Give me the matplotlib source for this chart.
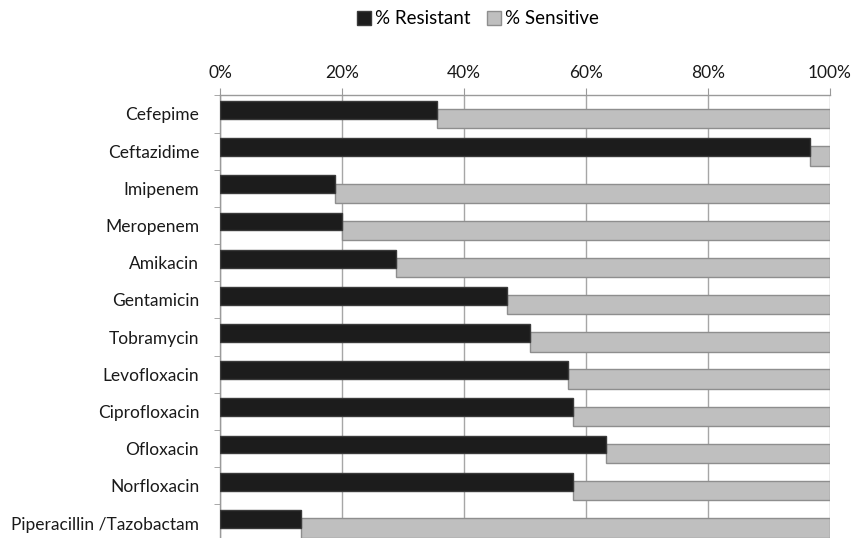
import numpy as np
import matplotlib.pyplot as plt
from matplotlib.patches import Patch

plt.rcParams['font.family'] = ['Lato', 'DejaVu Sans']

antibiotics = ['Cefepime', 'Ceftazidime', 'Imipenem', 'Meropenem', 'Amikacin',
               'Gentamicin', 'Tobramycin', 'Levofloxacin', 'Ciprofloxacin',
               'Ofloxacin', 'Norfloxacin', 'Piperacillin /Tazobactam']
resistant = [35.6, 96.8, 18.8, 20.0, 28.9, 47.0, 50.8, 57.1, 57.9, 63.3, 57.9, 13.3]
sensitive = [100 - r for r in resistant]

x_ticks = [0, 20, 40, 60, 80, 100]

fig = plt.figure(figsize=(8.53, 5.38), dpi=100)
ax = fig.add_axes([220 / 853, -0.0067, 610 / 853, 0.8294])

y = np.arange(len(antibiotics))
ax.barh(y - 0.11, resistant, height=0.48, color='#1c1c1c',
        edgecolor='#3a3a3a', linewidth=1.0, zorder=3, label='% Resistant')
ax.barh(y + 0.13, sensitive, left=resistant, height=0.52, color='#bfbfbf',
        edgecolor='#8e8e8e', linewidth=1.0, zorder=2, label='% Sensitive')

ax.set_xlim(0, 100)
ax.set_ylim(len(antibiotics) - 0.5, -0.5)

ax.xaxis.tick_top()
ax.set_xticks(x_ticks)
ax.set_xticklabels([f'{t}%' for t in x_ticks], fontsize=12.5, color='#1a1a1a')
ax.tick_params(axis='x', length=5, color='#9a9a9a', pad=5)
ax.grid(axis='x', color='#a6a6a6', linewidth=1.0, zorder=0)

ax.set_yticks(y)
ax.set_yticklabels(antibiotics, fontsize=12.5, color='#1a1a1a')
ax.set_yticks(np.arange(len(antibiotics) + 1) - 0.5, minor=True)
ax.tick_params(axis='y', which='major', length=0, pad=15)
ax.tick_params(axis='y', which='minor', length=4, color='#9a9a9a')

for side in ['bottom', 'right']:
    ax.spines[side].set_visible(False)
for side in ['top', 'left']:
    ax.spines[side].set_color('#9a9a9a')
    ax.spines[side].set_linewidth(1.0)

handles = [Patch(facecolor='#1c1c1c', edgecolor='#3a3a3a', label='% Resistant'),
           Patch(facecolor='#bfbfbf', edgecolor='#8e8e8e', label='% Sensitive')]
fig.legend(handles=handles, loc='center', bbox_to_anchor=(478 / 853, 1 - 19 / 538),
           ncol=2, frameon=False, fontsize=13.5, handlelength=0.75, handleheight=0.75,
           handletextpad=0.2, columnspacing=0.9)

fig.savefig('out.png', dpi=100, facecolor='white')
